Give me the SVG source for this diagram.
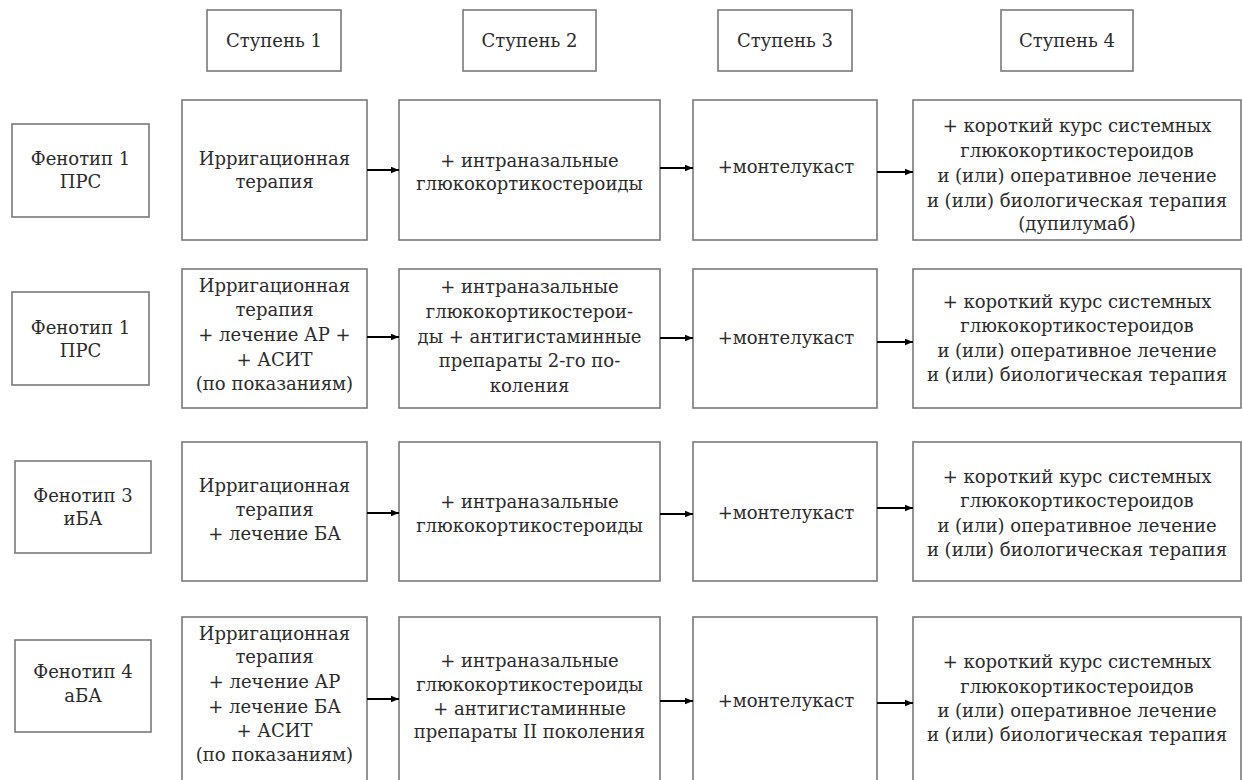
<svg xmlns="http://www.w3.org/2000/svg" width="1242" height="780" viewBox="0 0 1242 780">
<defs>
<style>
rect{fill:#fff;stroke:#7a7a7a;stroke-width:1.6}
text{font-family:"DejaVu Serif","Liberation Serif",serif;font-size:18px;fill:#2b2b2b;text-anchor:middle}
.c line{stroke:#000;stroke-width:2}
</style>
<marker id="ah" markerWidth="8" markerHeight="8" refX="8" refY="4" orient="auto" markerUnits="userSpaceOnUse">
<path d="M0,0.8 L8,4 L0,7.2 Z" fill="#000"/>
</marker>
</defs>
<rect x="0" y="0" width="1242" height="780" style="stroke:none"/>
<g id="h1"><rect x="207" y="10" width="134" height="61"/><text x="274" y="47">Ступень 1</text></g>
<g id="h2"><rect x="463" y="10" width="133" height="61"/><text x="529.5" y="47">Ступень 2</text></g>
<g id="h3"><rect x="718" y="10" width="134" height="61"/><text x="785" y="47">Ступень 3</text></g>
<g id="h4"><rect x="1001" y="10" width="132" height="61"/><text x="1067" y="47">Ступень 4</text></g>

<g id="p1"><rect x="12" y="124" width="137" height="93"/><text x="80.5" y="165">Фенотип 1</text><text x="80.5" y="188">ПРС</text></g>
<g id="r1s1"><rect x="182" y="100" width="185" height="140"/><text x="274.5" y="165">Ирригационная</text><text x="274.5" y="188">терапия</text></g>
<g id="r1s2"><rect x="399" y="100" width="261" height="140"/><text x="529.5" y="167">+ интраназальные</text><text x="529.5" y="190">глюкокортикостероиды</text></g>
<g id="r1s3"><rect x="693" y="100" width="184" height="140"/><text x="786" y="173">+монтелукаст</text></g>
<g id="r1s4"><rect x="913" y="100" width="328" height="140"/><text x="1077" y="132">+ короткий курс системных</text><text x="1077" y="157">глюкокортикостероидов</text><text x="1077" y="182">и (или) оперативное лечение</text><text x="1077" y="207">и (или) биологическая терапия</text><text x="1077" y="230">(дупилумаб)</text></g>

<g id="p2"><rect x="12" y="292" width="137" height="93"/><text x="80.5" y="334">Фенотип 1</text><text x="80.5" y="357">ПРС</text></g>
<g id="r2s1"><rect x="182" y="269" width="185" height="139"/><text x="274.5" y="292">Ирригационная</text><text x="274.5" y="316">терапия</text><text x="274.5" y="341">+ лечение АР +</text><text x="274.5" y="366">+ АСИТ</text><text x="274.5" y="390">(по показаниям)</text></g>
<g id="r2s2"><rect x="399" y="269" width="261" height="139"/><text x="529.5" y="293">+ интраназальные</text><text x="529.5" y="318">глюкокортикостерои-</text><text x="529.5" y="343">ды + антигистаминные</text><text x="529.5" y="367">препараты 2-го по-</text><text x="529.5" y="392">коления</text></g>
<g id="r2s3"><rect x="693" y="269" width="184" height="139"/><text x="786" y="344">+монтелукаст</text></g>
<g id="r2s4"><rect x="913" y="269" width="328" height="139"/><text x="1077" y="308">+ короткий курс системных</text><text x="1077" y="332">глюкокортикостероидов</text><text x="1077" y="357">и (или) оперативное лечение</text><text x="1077" y="381">и (или) биологическая терапия</text></g>

<g id="p3"><rect x="15" y="461" width="136" height="92"/><text x="83" y="502">Фенотип 3</text><text x="83" y="525">иБА</text></g>
<g id="r3s1"><rect x="182" y="442" width="185" height="139"/><text x="274.5" y="492">Ирригационная</text><text x="274.5" y="516">терапия</text><text x="274.5" y="540">+ лечение БА</text></g>
<g id="r3s2"><rect x="399" y="442" width="261" height="139"/><text x="529.5" y="508">+ интраназальные</text><text x="529.5" y="532">глюкокортикостероиды</text></g>
<g id="r3s3"><rect x="693" y="442" width="184" height="139"/><text x="786" y="519">+монтелукаст</text></g>
<g id="r3s4"><rect x="913" y="442" width="328" height="139"/><text x="1077" y="483">+ короткий курс системных</text><text x="1077" y="507">глюкокортикостероидов</text><text x="1077" y="532">и (или) оперативное лечение</text><text x="1077" y="556">и (или) биологическая терапия</text></g>

<g id="p4"><rect x="15" y="640" width="136" height="92"/><text x="83" y="678">Фенотип 4</text><text x="83" y="702">аБА</text></g>
<g id="r4s1"><rect x="182" y="617" width="185" height="170"/><text x="274.5" y="640">Ирригационная</text><text x="274.5" y="663">терапия</text><text x="274.5" y="688">+ лечение АР</text><text x="274.5" y="713">+ лечение БА</text><text x="274.5" y="737">+ АСИТ</text><text x="274.5" y="761">(по показаниям)</text></g>
<g id="r4s2"><rect x="399" y="617" width="261" height="170"/><text x="529.5" y="667">+ интраназальные</text><text x="529.5" y="691">глюкокортикостероиды</text><text x="529.5" y="715">+ антигистаминные</text><text x="529.5" y="738">препараты II поколения</text></g>
<g id="r4s3"><rect x="693" y="617" width="184" height="170"/><text x="786" y="707">+монтелукаст</text></g>
<g id="r4s4"><rect x="913" y="617" width="328" height="170"/><text x="1077" y="668">+ короткий курс системных</text><text x="1077" y="693">глюкокортикостероидов</text><text x="1077" y="717">и (или) оперативное лечение</text><text x="1077" y="741">и (или) биологическая терапия</text></g>

<g class="c" id="connectors">
<line x1="367" y1="170" x2="399" y2="170" marker-end="url(#ah)"/>
<line x1="660" y1="168" x2="693" y2="168" marker-end="url(#ah)"/>
<line x1="877" y1="172" x2="913" y2="172" marker-end="url(#ah)"/>
<line x1="367" y1="337" x2="399" y2="337" marker-end="url(#ah)"/>
<line x1="660" y1="338" x2="693" y2="338" marker-end="url(#ah)"/>
<line x1="877" y1="342" x2="913" y2="342" marker-end="url(#ah)"/>
<line x1="367" y1="513" x2="399" y2="513" marker-end="url(#ah)"/>
<line x1="660" y1="514" x2="693" y2="514" marker-end="url(#ah)"/>
<line x1="877" y1="508" x2="913" y2="508" marker-end="url(#ah)"/>
<line x1="367" y1="699" x2="399" y2="699" marker-end="url(#ah)"/>
<line x1="660" y1="701" x2="693" y2="701" marker-end="url(#ah)"/>
<line x1="877" y1="703" x2="913" y2="703" marker-end="url(#ah)"/>
</g>
</svg>
